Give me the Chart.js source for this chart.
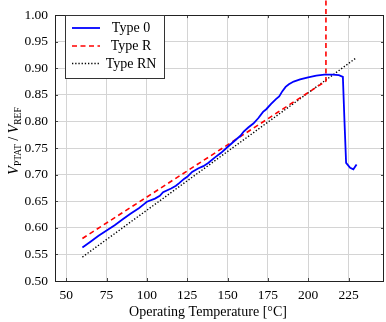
<!DOCTYPE html>
<html>
<head>
<meta charset="utf-8">
<script src="https://cdn.jsdelivr.net/npm/chart.js@4/dist/chart.umd.min.js"></script>
<style>
html,body{margin:0;padding:0;background:#fff;}
#wrap{width:386px;height:322px;position:relative;}
</style>
</head>
<body>
<div id="wrap"><canvas id="c" width="386" height="322"></canvas></div>
<script>
// ---- data ----
const type0Temp = [60,65,70,75,80,85,90,95,98,100,105,108,110,115,118,120,123,125,128,132,135,138,142,146,150,153,156,158,160,163,166,169,172,174,177,180,182,184,186,188,191,195,200,205,210,215,219,221.5,222.5,223.5,226,228,230];
const type0Vals = [0.563,0.574,0.585,0.595,0.605,0.616,0.627,0.637,0.644,0.649,0.655,0.660,0.667,0.674,0.679,0.684,0.692,0.696,0.705,0.712,0.716,0.722,0.732,0.741,0.752,0.760,0.768,0.773,0.781,0.789,0.796,0.806,0.818,0.823,0.833,0.842,0.847,0.857,0.865,0.870,0.875,0.879,0.883,0.886,0.888,0.888,0.887,0.884,0.800,0.722,0.713,0.710,0.719];
const typeRTemp = [60,100,150,211,211];
const typeRVals = [0.580,0.658,0.756,0.876,1.03];
const typeRNTemp = [60,230];
const typeRNVals = [0.545,0.920];
const seriesLabels = ['Type 0','Type R','Type RN'];
const xTicks = [50,75,100,125,150,175,200,225];
const yTicks = [0.50,0.55,0.60,0.65,0.70,0.75,0.80,0.85,0.90,0.95,1.00];
const xTitle = 'Operating Temperature [°C]';

const pts = (xs, ys) => xs.map((x,i)=>({x:x,y:ys[i]}));
const SERIF = "'Liberation Serif','DejaVu Serif',serif";

const framePlugin = {
  id:'frame',
  afterDraw(chart){
    const ctx = chart.ctx, a = chart.chartArea;
    const xs = chart.scales.x, ys = chart.scales.y;
    ctx.save();
    // tick marks inside
    ctx.strokeStyle = '#444'; ctx.lineWidth = 1;
    ctx.beginPath();
    xTicks.forEach(v=>{const p=Math.round(xs.getPixelForValue(v))+0.5;
      ctx.moveTo(p,a.bottom);ctx.lineTo(p,a.bottom-3);ctx.moveTo(p,a.top);ctx.lineTo(p,a.top+3);});
    yTicks.forEach(v=>{const p=Math.round(ys.getPixelForValue(v))+0.5;
      ctx.moveTo(a.left,p);ctx.lineTo(a.left+3,p);ctx.moveTo(a.right,p);ctx.lineTo(a.right-3,p);});
    ctx.stroke();
    // frame
    ctx.strokeStyle = '#222';
    ctx.strokeRect(Math.round(a.left)+0.5, Math.round(a.top)+0.5, Math.round(a.right-a.left)-1, Math.round(a.bottom-a.top));
    // legend
    const lx=65.5, ly=15.5, lw=99, lh=63;
    ctx.fillStyle='#fff'; ctx.fillRect(lx,ly,lw,lh);
    ctx.strokeStyle='#333'; ctx.lineWidth=1; ctx.strokeRect(lx,ly,lw,lh);
    const rows=[28,46,63.5];
    chart.data.datasets.forEach((ds,i)=>{
      ctx.save();
      ctx.strokeStyle=ds.borderColor; ctx.lineWidth=ds.borderWidth;
      ctx.setLineDash(ds.borderDash||[]);
      ctx.beginPath(); ctx.moveTo(72,rows[i]); ctx.lineTo(100,rows[i]); ctx.stroke();
      ctx.restore();
      ctx.fillStyle='#000'; ctx.font='14px '+SERIF;
      ctx.textAlign='center'; ctx.textBaseline='middle';
      ctx.fillText(ds.label,131,rows[i]+0.5);
    });
    // x title
    ctx.fillStyle='#000'; ctx.font='14px '+SERIF; ctx.textAlign='center'; ctx.textBaseline='alphabetic';
    ctx.fillText(xTitle,208,316);
    // y title (rotated)
    ctx.translate(18,141); ctx.rotate(-Math.PI/2);
    const parts=[['V','italic 14px '],['PTAT','9.5px '],[' / ','14px '],['V','italic 14px '],['REF','9.5px ']];
    let total=0; parts.forEach(p=>{ctx.font=p[1]+SERIF; total+=ctx.measureText(p[0]).width;});
    let x=-total/2; ctx.textAlign='left';
    parts.forEach(p=>{ctx.font=p[1]+SERIF; const sub=p[1].startsWith('9');
      ctx.fillText(p[0],x,sub?3:0); x+=ctx.measureText(p[0]).width;});
    ctx.restore();
  }
};

new Chart(document.getElementById('c'),{
  type:'scatter',
  data:{datasets:[
    {label:seriesLabels[0],data:pts(type0Temp,type0Vals),showLine:true,borderColor:'#0000ff',borderWidth:1.8,pointRadius:0,tension:0},
    {label:seriesLabels[1],data:pts(typeRTemp,typeRVals),showLine:true,borderColor:'#ff0000',borderWidth:1.6,borderDash:[5,3.5],pointRadius:0,tension:0,clip:false},
    {label:seriesLabels[2],data:pts(typeRNTemp,typeRNVals),showLine:true,borderColor:'#000000',borderWidth:1.4,borderDash:[1.3,1.9],pointRadius:0,tension:0}
  ]},
  options:{
    responsive:false,animation:false,devicePixelRatio:1,
    layout:{padding:{left:0,top:0,right:2,bottom:0}},
    plugins:{legend:{display:false},tooltip:{enabled:false}},
    scales:{
      x:{type:'linear',min:43,max:247,
        afterBuildTicks:s=>{s.ticks=xTicks.map(v=>({value:v}));},
        afterFit:s=>{s.height=41;},
        grid:{color:'#d4d4d4',lineWidth:1,drawTicks:false},
        border:{display:false},
        ticks:{padding:6,color:'#000',font:{family:SERIF,size:13.5},callback:v=>String(v),maxRotation:0,autoSkip:false}},
      y:{type:'linear',min:0.5,max:1.0,
        afterBuildTicks:s=>{s.ticks=yTicks.map(v=>({value:v}));},
        afterFit:s=>{s.width=55;},
        grid:{color:'#d4d4d4',lineWidth:1,drawTicks:false},
        border:{display:false},
        ticks:{padding:7,color:'#000',font:{family:SERIF,size:13.5},callback:v=>Number(v).toFixed(2),autoSkip:false}}
    }
  },
  plugins:[framePlugin]
});
</script>
</body>
</html>
